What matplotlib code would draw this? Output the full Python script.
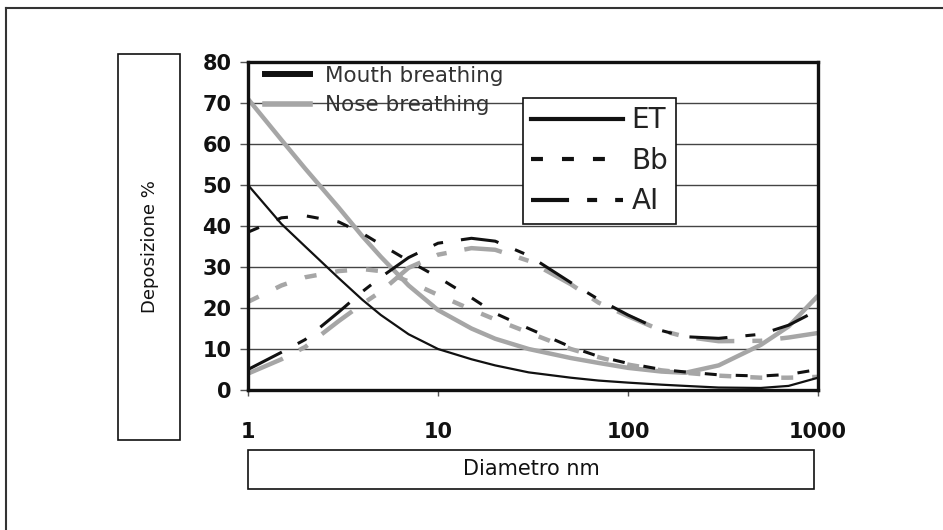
import matplotlib
matplotlib.use("Agg")
import matplotlib.pyplot as plt
from matplotlib.lines import Line2D
from matplotlib.patches import Rectangle

# ==========================================================
# Données
# ==========================================================

diametro = [1, 1.5, 2, 3, 4, 5, 7, 10, 15, 20, 30, 50, 70, 100, 150, 200, 300, 500, 700, 1000]

et_mouth = [50, 40.5, 35, 27.3, 22, 18.3, 13.6, 10, 7.5, 6, 4.3, 3, 2.3, 1.8, 1.3, 1, 0.6, 0.5, 1.0, 3]
et_nose = [71, 61, 54, 44.5, 37.5, 32.5, 25.5, 19.5, 15, 12.5, 10, 7.8, 6.6, 5.4, 4.5, 4.2, 6, 11, 15.5, 23]

bb_mouth = [38.5, 42, 42.5, 41, 38.2, 35.5, 31.5, 27.5, 22.5, 18.7, 15, 10.5, 8.2, 6.5, 5, 4.4, 3.7, 3.4, 3.8, 5]
bb_nose = [21.5, 25.5, 27.5, 29, 29.5, 29, 26.5, 23.2, 19.6, 17.2, 14, 10, 8, 6.2, 4.8, 4.2, 3.5, 3, 3, 3.2]

ai_mouth = [5, 9.2, 12.3, 19, 24, 27.5, 32.3, 35.8, 37, 36.3, 32.8, 26.2, 22.1, 18.3, 14.5, 13, 12.6, 13.6, 15.8, 19.5]
ai_nose = [4, 7.5, 10.5, 16.8, 21, 24, 29.8, 33, 34.6, 34.2, 31.5, 25.8, 21.3, 18, 14.5, 13, 11.9, 12, 12.8, 13.9]

x_ticks = [1, 10, 100, 1000]
x_tick_labels = ["1", "10", "100", "1000"]
y_ticks = [0, 10, 20, 30, 40, 50, 60, 70, 80]

# ==========================================================
# Style
# ==========================================================

plt.rcParams["font.family"] = ["DejaVu Sans"]
plt.rcParams["lines.scale_dashes"] = False

GRIS = "#a6a6a6"
NOIR = "#111111"
BB_DASH = (0, (8.6, 13.7))
AI_DASH = (0, (27.4, 13, 7.2, 13))

fig = plt.figure(figsize=(9.43, 5.30), dpi=100)
ax = fig.add_axes([248 / 943, 1 - 390 / 530, 570 / 943, 328 / 530])

# ==========================================================
# Courbes
# ==========================================================

ax.plot(diametro, et_nose, color=GRIS, lw=3.2, solid_capstyle="butt")
ax.plot(diametro, bb_nose, color=GRIS, lw=3.2, linestyle=BB_DASH, dash_capstyle="butt")
ax.plot(diametro, ai_nose, color=GRIS, lw=3.2, linestyle=AI_DASH, dash_capstyle="butt")

ax.plot(diametro, et_mouth, color=NOIR, lw=1.6)
ax.plot(diametro, bb_mouth, color=NOIR, lw=2.2, linestyle=BB_DASH, dash_capstyle="butt")
ax.plot(diametro, ai_mouth, color=NOIR, lw=2.2, linestyle=AI_DASH, dash_capstyle="butt")

# ==========================================================
# Axes
# ==========================================================

ax.set_xscale("log")
ax.set_xlim(1, 1000)
ax.set_ylim(0, 80)

ax.set_xticks(x_ticks)
ax.set_xticklabels(x_tick_labels)
ax.xaxis.set_minor_locator(matplotlib.ticker.NullLocator())
ax.set_yticks(y_ticks)

ax.tick_params(axis="y", direction="out", length=6, width=1, color="#555555",
               pad=6, labelsize=15, labelcolor=NOIR)
ax.tick_params(axis="x", direction="out", length=4, width=1, color="#555555",
               pad=19, labelsize=15, labelcolor=NOIR)
for lab in ax.get_xticklabels() + ax.get_yticklabels():
    lab.set_fontweight("bold")

ax.yaxis.grid(True, color="#444444", lw=1)
ax.set_axisbelow(True)

for s in ax.spines.values():
    s.set_linewidth(2.4)
    s.set_color(NOIR)

# ==========================================================
# Légendes
# ==========================================================

leg1 = ax.legend(
    [Line2D([], [], color=NOIR, lw=4.3), Line2D([], [], color=GRIS, lw=4.0)],
    ["Mouth breathing", "Nose breathing"],
    loc="upper left",
    bbox_to_anchor=(265 / 943, 1 - 66 / 530),
    bbox_transform=fig.transFigure,
    frameon=False,
    fontsize=15.5,
    handlelength=2.1,
    handletextpad=0.7,
    labelspacing=0.42,
    borderpad=0,
    borderaxespad=0,
    labelcolor="#333333",
)
ax.add_artist(leg1)

leg2 = ax.legend(
    [Line2D([], [], color=NOIR, lw=3),
     Line2D([], [], color=NOIR, lw=3, linestyle=BB_DASH, dash_capstyle="butt"),
     Line2D([], [], color=NOIR, lw=3, linestyle=AI_DASH, dash_capstyle="butt")],
    ["ET", "Bb", "AI"],
    loc="upper left",
    bbox_to_anchor=(523 / 943, 1 - 98 / 530),
    bbox_transform=fig.transFigure,
    frameon=True,
    fancybox=False,
    fontsize=20,
    handlelength=3.3,
    handletextpad=0.3,
    labelspacing=0.45,
    borderpad=0.3,
    borderaxespad=0,
    labelcolor="#222222",
)
leg2.get_frame().set_edgecolor(NOIR)
leg2.get_frame().set_linewidth(1.2)
leg2.get_frame().set_alpha(1)

# ==========================================================
# Boîtes des titres d'axes + cadre
# ==========================================================

fig.patches.append(Rectangle((118 / 943, 1 - 440 / 530), 62 / 943, 386 / 530,
                             transform=fig.transFigure, fill=False,
                             edgecolor=NOIR, lw=1.2))
fig.text(150 / 943, 1 - 247 / 530, "Deposizione %", rotation=90,
         ha="center", va="center", fontsize=13, color=NOIR)

fig.patches.append(Rectangle((248 / 943, 1 - 489 / 530), 566 / 943, 39 / 530,
                             transform=fig.transFigure, fill=False,
                             edgecolor=NOIR, lw=1.2))
fig.text(531 / 943, 1 - 469 / 530, "Diametro nm",
         ha="center", va="center", fontsize=15, color=NOIR)

fig.lines.append(Line2D([6 / 943, 1], [1 - 8 / 530, 1 - 8 / 530],
                        transform=fig.transFigure, color="#333333", lw=1.5))
fig.lines.append(Line2D([6 / 943, 6 / 943], [0, 1 - 8 / 530],
                        transform=fig.transFigure, color="#333333", lw=1.5))

fig.savefig("out.png", dpi=100)
